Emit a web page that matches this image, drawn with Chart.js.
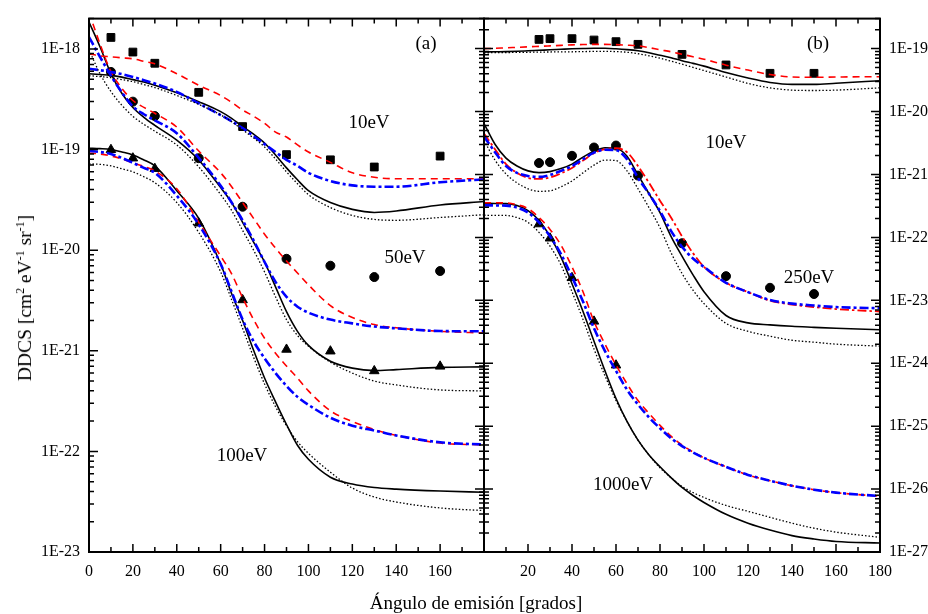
<!DOCTYPE html>
<html>
<head>
<meta charset="utf-8">
<script src="https://cdn.jsdelivr.net/npm/chart.js@4.4.0/dist/chart.umd.min.js"></script>
<style>
  html, body { margin: 0; padding: 0; background: #fff; }
  #wrap { position: relative; width: 928px; height: 614px; overflow: hidden;
          font-family: "Liberation Serif", "DejaVu Serif", serif; color: #000; }
  canvas { position: absolute; left: 0; top: 0; }
  .lbl { position: absolute; font-size: 19px; transform: translate(-50%, -50%); white-space: nowrap; }
  #ytitle { position: absolute; left: 25px; top: 298px; font-size: 19.5px; white-space: nowrap;
            transform: translate(-50%, -50%) rotate(-90deg); }
  #xtitle { position: absolute; left: 476px; top: 603px; font-size: 19px; white-space: nowrap;
            transform: translate(-50%, -50%); }
  sup { font-size: 12px; vertical-align: 7px; line-height: 0; }
</style>
</head>
<body>
<div id="wrap">
  <canvas id="cA" width="928" height="614"></canvas>
  <canvas id="cB" width="928" height="614"></canvas>
  <div class="lbl" style="left:426px; top:43px">(a)</div>
  <div class="lbl" style="left:369px; top:122px">10eV</div>
  <div class="lbl" style="left:405px; top:257px">50eV</div>
  <div class="lbl" style="left:242px; top:455px">100eV</div>
  <div class="lbl" style="left:818px; top:43px">(b)</div>
  <div class="lbl" style="left:726px; top:142px">10eV</div>
  <div class="lbl" style="left:809px; top:277px">250eV</div>
  <div class="lbl" style="left:623px; top:484px">1000eV</div>
  <div id="ytitle">DDCS [cm<sup>2</sup> eV<sup>-1</sup> sr<sup>-1</sup>]</div>
  <div id="xtitle">Ángulo de emisión [grados]</div>
</div>
<script>
// emission angles (degrees) used by the model curves
const angA = [0, 5, 10, 15, 20, 25, 30, 40, 50, 60, 65, 70, 75, 80, 85, 90, 95, 100, 110, 120, 130, 140, 160, 180]
const angB = [0, 5, 10, 15, 20, 25, 30, 35, 40, 45, 50, 55, 60, 65, 70, 75, 80, 85, 90, 95, 100, 110, 120, 130, 140, 150, 160, 180]

// panel (a) - 10 eV
const a10Red = [8.93e-19, 8.53e-19, 8.34e-19, 8.15e-19, 7.97e-19, 7.53e-19, 7.11e-19, 5.67e-19, 4.35e-19, 3.44e-19, 2.94e-19, 2.47e-19, 2.14e-19, 1.82e-19, 1.49e-19, 1.33e-19, 1.11e-19, 9.45e-20, 7.45e-20, 5.87e-20, 5.3e-20, 5.12e-20, 5.12e-20, 5.12e-20]
const a10Blue = [6.35e-19, 6.14e-19, 5.89e-19, 5.61e-19, 5.26e-19, 4.89e-19, 4.52e-19, 3.74e-19, 2.87e-19, 2.2e-19, 1.91e-19, 1.63e-19, 1.36e-19, 1.13e-19, 9.45e-20, 7.88e-20, 6.88e-20, 5.87e-20, 4.86e-20, 4.4e-20, 4.27e-20, 4.27e-20, 4.73e-20, 5.04e-20]
const a10Black = [5.67e-19, 5.57e-19, 5.46e-19, 5.24e-19, 4.95e-19, 4.68e-19, 4.35e-19, 3.66e-19, 2.99e-19, 2.38e-19, 2.04e-19, 1.69e-19, 1.42e-19, 1.16e-19, 8.83e-20, 6.57e-20, 5.0e-20, 3.9e-20, 2.97e-20, 2.54e-20, 2.37e-20, 2.45e-20, 2.81e-20, 3.04e-20]
const a10Dot = [5.42e-19, 5.3e-19, 5.18e-19, 4.95e-19, 4.73e-19, 4.42e-19, 4.13e-19, 3.44e-19, 2.81e-19, 2.21e-19, 1.89e-19, 1.57e-19, 1.3e-19, 1.06e-19, 8.06e-20, 6.0e-20, 4.57e-20, 3.56e-20, 2.65e-20, 2.21e-20, 2.02e-20, 1.98e-20, 2.11e-20, 2.25e-20]
// panel (a) - 50 eV
const a50Red = [2.31e-18, 1.12e-18, 5.93e-19, 4.04e-19, 3.07e-19, 2.62e-19, 2.29e-19, 1.67e-19, 9.66e-20, 5.87e-20, 4.27e-20, 2.97e-20, 2.07e-20, 1.44e-20, 1.05e-20, 7.79e-21, 5.93e-21, 4.52e-21, 2.81e-21, 2.14e-21, 1.82e-21, 1.69e-21, 1.56e-21, 1.5e-21]
const a50Blue = [1.31e-18, 8.34e-19, 5.42e-19, 3.69e-19, 2.68e-19, 2.24e-19, 1.95e-19, 1.45e-19, 8.25e-20, 4.37e-20, 2.97e-20, 1.98e-20, 1.25e-20, 7.62e-21, 4.84e-21, 3.44e-21, 2.74e-21, 2.39e-21, 2.04e-21, 1.87e-21, 1.74e-21, 1.67e-21, 1.57e-21, 1.56e-21]
const a50Black = [1.85e-18, 1.05e-18, 5.67e-19, 3.6e-19, 2.62e-19, 2.09e-19, 1.74e-19, 1.24e-19, 7.88e-20, 4.18e-20, 2.97e-20, 1.89e-20, 1.2e-20, 7.62e-21, 4.32e-21, 2.45e-21, 1.56e-21, 1.13e-21, 7.88e-22, 6.72e-22, 6.35e-22, 6.5e-22, 6.83e-22, 6.92e-22]
const a50Dot = [9.78e-19, 5.67e-19, 3.77e-19, 2.75e-19, 2.14e-19, 1.78e-19, 1.52e-19, 1.11e-19, 6.72e-20, 3.56e-20, 2.48e-20, 1.57e-20, 1.0e-20, 6.07e-21, 3.44e-21, 2.04e-21, 1.42e-21, 1.11e-21, 7.7e-22, 6.0e-22, 5.0e-22, 4.57e-22, 4.08e-22, 3.99e-22]
// panel (a) - 100 eV
const a100Red = [9.24e-20, 9.03e-20, 8.63e-20, 8.06e-20, 7.36e-20, 6.8e-20, 6.14e-20, 4.08e-20, 1.89e-20, 8.73e-21, 5.8e-21, 3.37e-21, 2.04e-21, 1.33e-21, 9.45e-22, 7.04e-22, 5.36e-22, 3.99e-22, 2.53e-22, 1.98e-22, 1.65e-22, 1.44e-22, 1.21e-22, 1.16e-22]
const a100Blue = [9.66e-20, 9.45e-20, 9.03e-20, 8.25e-20, 7.36e-20, 6.57e-20, 5.87e-20, 3.48e-20, 1.8e-20, 7.28e-21, 3.86e-21, 2.04e-21, 1.24e-21, 8.43e-22, 6.0e-22, 4.47e-22, 3.48e-22, 2.9e-22, 2.16e-22, 1.8e-22, 1.61e-22, 1.44e-22, 1.23e-22, 1.17e-22]
const a100Black = [1.03e-19, 1.02e-19, 1.0e-19, 9.45e-20, 8.83e-20, 7.88e-20, 6.88e-20, 3.9e-20, 2.07e-20, 7.28e-21, 3.69e-21, 2.0e-21, 1.01e-21, 5.36e-22, 3.11e-22, 1.85e-22, 1.15e-22, 8.34e-23, 5.54e-23, 4.73e-23, 4.37e-23, 4.22e-23, 4.04e-23, 3.92e-23]
const a100Dot = [7.2e-20, 7.12e-20, 6.88e-20, 6.43e-20, 6.0e-20, 5.36e-20, 4.68e-20, 2.97e-20, 1.5e-20, 6.07e-21, 3.22e-21, 1.67e-21, 8.63e-22, 4.68e-22, 2.78e-22, 1.8e-22, 1.25e-22, 9.56e-23, 6.21e-23, 4.32e-23, 3.52e-23, 3.14e-23, 2.74e-23, 2.58e-23]

// panel (a) - experiment
const expAngA = [10, 20, 30, 50, 70, 90, 110, 130, 160]
const a10Exp = [1.30e-18, 9.3e-19, 7.2e-19, 3.7e-19, 1.69e-19, 8.9e-20, 7.9e-20, 6.7e-20, 8.6e-20]
const a50Exp = [5.9e-19, 2.99e-19, 2.15e-19, 8.2e-20, 2.7e-20, 8.2e-21, 7.0e-21, 5.4e-21, 6.2e-21]
const a100Exp = [9.95e-20, 8.2e-20, 6.45e-20, 1.85e-20, 3.2e-21, 1.03e-21, 9.9e-22, 6.3e-22, 7.0e-22]

// panel (b) - 10 eV
const b10Red = [1.0e-19, 1.01e-19, 1.03e-19, 1.048e-19, 1.067e-19, 1.087e-19, 1.107e-19, 1.127e-19, 1.147e-19, 1.16e-19, 1.168e-19, 1.168e-19, 1.156e-19, 1.135e-19, 1.107e-19, 1.037e-19, 9.57e-20, 8.91e-20, 8.13e-20, 7.43e-20, 6.79e-20, 5.46e-20, 4.56e-20, 3.87e-20, 3.54e-20, 3.5e-20, 3.54e-20, 3.58e-20]
const b10Black = [8.84e-20, 8.91e-20, 8.97e-20, 9.07e-20, 9.23e-20, 9.4e-20, 9.57e-20, 9.75e-20, 9.93e-20, 1.004e-19, 1.011e-19, 1.011e-19, 9.93e-20, 9.64e-20, 9.23e-20, 8.59e-20, 7.85e-20, 7.17e-20, 6.43e-20, 5.83e-20, 5.27e-20, 4.16e-20, 3.41e-20, 2.9e-20, 2.7e-20, 2.7e-20, 2.82e-20, 3.09e-20]
const b10Dot = [8.59e-20, 8.62e-20, 8.65e-20, 8.72e-20, 8.75e-20, 8.81e-20, 8.84e-20, 8.87e-20, 8.91e-20, 8.97e-20, 9.03e-20, 9.07e-20, 8.97e-20, 8.75e-20, 8.29e-20, 7.7e-20, 7.04e-20, 6.32e-20, 5.66e-20, 5.04e-20, 4.48e-20, 3.54e-20, 2.8e-20, 2.38e-20, 2.19e-20, 2.16e-20, 2.19e-20, 2.38e-20]
// panel (b) - 250 eV
const b250Red = [4.49e-21, 2.52e-21, 1.46e-21, 1.06e-21, 8.81e-22, 8.5e-22, 8.97e-22, 1.04e-21, 1.27e-21, 1.66e-21, 2.18e-21, 2.52e-21, 2.61e-21, 2.26e-21, 1.36e-21, 7.35e-22, 3.83e-22, 2.07e-22, 1.04e-22, 5.62e-23, 3.39e-23, 1.9e-23, 1.35e-23, 9.89e-24, 8.56e-24, 7.81e-24, 7.27e-24, 6.64e-24]
const b250Blue = [4.03e-21, 2.26e-21, 1.36e-21, 1.06e-21, 9.47e-22, 9.14e-22, 9.82e-22, 1.14e-21, 1.36e-21, 1.75e-21, 2.22e-21, 2.47e-21, 2.43e-21, 1.75e-21, 8.81e-22, 4.94e-22, 2.62e-22, 1.27e-22, 7.11e-23, 4.61e-23, 3.39e-23, 1.9e-23, 1.35e-23, 1.01e-23, 8.87e-24, 8.25e-24, 7.81e-24, 7.48e-24]
const b250Black = [6.45e-21, 3.02e-21, 1.82e-21, 1.36e-21, 1.14e-21, 1.07e-21, 1.11e-21, 1.24e-21, 1.46e-21, 1.89e-21, 2.34e-21, 2.66e-21, 2.61e-21, 1.95e-21, 9.82e-22, 4.94e-22, 2.48e-22, 1.04e-22, 5.04e-23, 2.54e-23, 1.37e-23, 5.74e-24, 4.38e-24, 4.07e-24, 3.86e-24, 3.72e-24, 3.59e-24, 3.4e-24]
const b250Dot = [3.49e-21, 1.69e-21, 1.02e-21, 7.35e-22, 5.92e-22, 5.4e-22, 5.5e-22, 6.36e-22, 7.9e-22, 1.06e-21, 1.41e-21, 1.69e-21, 1.66e-21, 1.14e-21, 5.92e-22, 2.97e-22, 1.42e-22, 5.73e-23, 2.68e-23, 1.45e-23, 8.87e-24, 4.3e-24, 3.22e-24, 2.69e-24, 2.32e-24, 2.16e-24, 2.01e-24, 1.87e-24]
// panel (b) - 1000 eV
const b1000Red = [3.56e-22, 3.55e-22, 3.53e-22, 3.31e-22, 2.87e-22, 2.07e-22, 1.34e-22, 7.51e-23, 3.39e-23, 1.37e-23, 4.62e-24, 2.01e-24, 9.4e-25, 4.73e-25, 2.55e-25, 1.6e-25, 1.03e-25, 6.94e-26, 5.01e-26, 3.89e-26, 3.13e-26, 2.26e-26, 1.68e-26, 1.36e-26, 1.13e-26, 9.78e-27, 8.78e-27, 7.68e-27]
const b1000Blue = [3.23e-22, 3.22e-22, 3.2e-22, 2.97e-22, 2.48e-22, 1.73e-22, 1.04e-22, 5.42e-23, 2.36e-23, 9.54e-24, 3.59e-24, 1.56e-24, 7.57e-25, 3.8e-25, 2.21e-25, 1.38e-25, 9.27e-26, 6.45e-26, 4.83e-26, 3.82e-26, 3.13e-26, 2.26e-26, 1.68e-26, 1.36e-26, 1.13e-26, 9.78e-27, 8.78e-27, 7.73e-27]
const b1000Black = [3.48e-22, 3.46e-22, 3.44e-22, 3.2e-22, 2.67e-22, 1.86e-22, 1.04e-22, 4.86e-23, 1.83e-23, 6.64e-24, 2.24e-24, 7.57e-25, 2.75e-25, 1.19e-25, 6.0e-26, 3.49e-26, 2.26e-26, 1.52e-26, 1.06e-26, 7.9e-27, 6.13e-27, 3.97e-27, 2.87e-27, 2.23e-27, 1.82e-27, 1.61e-27, 1.47e-27, 1.39e-27]
const b1000Dot = [2.25e-22, 2.24e-22, 2.23e-22, 2.07e-22, 1.73e-22, 1.2e-22, 7.25e-23, 3.64e-23, 1.37e-23, 4.97e-24, 1.68e-24, 6.31e-25, 2.55e-25, 1.19e-25, 6.0e-26, 3.49e-26, 2.18e-26, 1.52e-26, 1.1e-26, 8.81e-27, 7.35e-27, 5.5e-27, 4.43e-27, 3.56e-27, 2.87e-27, 2.39e-27, 2.07e-27, 1.71e-27]

// panel (b) - experiment
const b10ExpAng = [25, 30, 40, 50, 60, 70, 90, 110, 130, 150]
const b10Exp = [1.4e-19, 1.44e-19, 1.44e-19, 1.37e-19, 1.29e-19, 1.17e-19, 8.1e-20, 5.5e-20, 4.05e-20, 4.05e-20]
const b250ExpAng = [25, 30, 40, 50, 60, 70, 90, 110, 130, 150]
const b250Exp = [1.52e-21, 1.57e-21, 1.98e-21, 2.68e-21, 2.88e-21, 9.6e-22, 8.07e-23, 2.42e-23, 1.58e-23, 1.26e-23]
const b1000ExpAng = [25, 30, 40, 50, 60]
const b1000Exp = [1.63e-22, 9.7e-23, 2.28e-23, 4.63e-24, 9.3e-25]

// line looks
const solid = { borderColor: "#000", borderWidth: 1.6, borderDash: [] }
const dotted = { borderColor: "#000", borderWidth: 1.3, borderDash: [1.5, 2] }
const redDash = { borderColor: "#ff0000", borderWidth: 1.6, borderDash: [7, 5] }
const redDashDot = { borderColor: "#ff0000", borderWidth: 1.8, borderDash: [9, 3, 2.5, 3] }
const blueDashDot = { borderColor: "#0000ff", borderWidth: 2.6, borderDash: [9, 3, 3, 3] }

const curve = (ang, vals, look) => ({
  data: ang.map((x, i) => ({ x, y: vals[i] })),
  ...look,
  pointRadius: 0,
  fill: false,
  cubicInterpolationMode: "monotone",
})

const marks = (ang, vals, style, r) => ({
  data: ang.map((x, i) => ({ x, y: vals[i] })),
  showLine: false,
  pointStyle: style,
  pointRadius: r,
  backgroundColor: "#000",
  borderColor: "#000",
  borderWidth: 1,
})

// inward ticks and frame, placed with the chart's own scales
const frameTicks = {
  id: "frameTicks",
  afterDatasetsDraw(chart, args, opts) {
    const { ctx, chartArea: a, scales: { x, y } } = chart
    ctx.save()
    ctx.strokeStyle = "#000"
    ctx.lineWidth = 1.5
    ctx.beginPath()
    for (let d = 0; d <= 180; d += 10) {
      const px = x.getPixelForValue(d)
      const len = d % 20 === 0 ? 8 : 5
      ctx.moveTo(px, a.bottom)
      ctx.lineTo(px, a.bottom - len)
      ctx.moveTo(px, a.top)
      ctx.lineTo(px, a.top + len)
    }
    for (let e = opts.eMin; e <= opts.eMax; e++) {
      for (let m = 1; m <= 9; m++) {
        const v = m * Math.pow(10, e)
        if (v < y.min * 0.999 || v > y.max * 1.001) continue
        const py = y.getPixelForValue(v)
        const len = m === 1 ? 9 : 5
        opts.sides.forEach((s) => {
          const x0 = s === "left" || s === "leftOut" ? a.left : a.right
          const dir = s === "left" || s === "rightOut" ? 1 : -1
          ctx.moveTo(x0, py)
          ctx.lineTo(x0 + dir * len, py)
        })
      }
    }
    ctx.stroke()
    ctx.lineWidth = 2
    ctx.strokeRect(a.left, a.top, a.width, a.height)
    ctx.restore()
  },
}

const decadeLabel = (v) => {
  const l = Math.log10(v)
  return Math.abs(l - Math.round(l)) < 1e-6 ? "1E" + Math.round(l) : ""
}

const tickFont = { family: "Liberation Serif", size: 16 }

const makeChart = (id, datasets, cfg) =>
  new Chart(document.getElementById(id), {
    type: "line",
    data: { datasets },
    plugins: [frameTicks],
    options: {
      responsive: false,
      animation: false,
      events: [],
      layout: { padding: cfg.padding },
      plugins: {
        legend: { display: false },
        tooltip: { enabled: false },
        frameTicks: { eMin: cfg.eMin, eMax: cfg.eMax, sides: cfg.sides },
      },
      scales: {
        x: {
          type: "linear",
          min: 0,
          max: 180,
          grid: { display: false, drawTicks: false },
          border: { display: false },
          afterFit: (s) => { s.height = 62 },
          ticks: {
            stepSize: 20,
            autoSkip: false,
            maxRotation: 0,
            padding: 10,
            color: "#000",
            font: tickFont,
            callback: (v) => (cfg.hideX.includes(v) ? "" : String(v)),
          },
        },
        y: {
          type: "logarithmic",
          position: cfg.yPos,
          min: cfg.yMin,
          max: cfg.yMax,
          grid: { display: false, drawTicks: false },
          border: { display: false },
          afterFit: (s) => { s.width = cfg.yWidth },
          ticks: {
            autoSkip: false,
            padding: 9,
            color: "#000",
            font: tickFont,
            callback: decadeLabel,
          },
        },
      },
    },
  })

makeChart("cA", [
  curve(angA, a10Dot, dotted), curve(angA, a50Dot, dotted), curve(angA, a100Dot, dotted),
  curve(angA, a10Blue, blueDashDot), curve(angA, a50Blue, blueDashDot), curve(angA, a100Blue, blueDashDot),
  curve(angA, a10Red, redDash), curve(angA, a50Red, redDash), curve(angA, a100Red, redDash),
  curve(angA, a10Black, solid), curve(angA, a50Black, solid), curve(angA, a100Black, solid),
  marks(expAngA, a10Exp, "rect", 5.5), marks(expAngA, a50Exp, "circle", 4.5), marks(expAngA, a100Exp, "triangle", 5.5),
], {
  padding: { left: 0, right: 444, top: 14, bottom: 0 },
  yPos: "left", yWidth: 89, yMin: 1e-23, yMax: 2e-18,
  eMin: -23, eMax: -18, sides: ["left"], hideX: [180],
})

makeChart("cB", [
  curve(angB, b10Dot, dotted), curve(angB, b250Dot, dotted), curve(angB, b1000Dot, dotted),
  curve(angB, b250Blue, blueDashDot), curve(angB, b1000Blue, blueDashDot),
  curve(angB, b10Red, redDash), curve(angB, b250Red, redDashDot), curve(angB, b1000Red, redDash),
  curve(angB, b10Black, solid), curve(angB, b250Black, solid), curve(angB, b1000Black, solid),
  marks(b10ExpAng, b10Exp, "rect", 5.5), marks(b250ExpAng, b250Exp, "circle", 4.5), marks(b1000ExpAng, b1000Exp, "triangle", 5.5),
], {
  padding: { left: 484, right: 0, top: 14, bottom: 0 },
  yPos: "right", yWidth: 48, yMin: 1e-27, yMax: 3e-19,
  eMin: -27, eMax: -19, sides: ["right", "left", "leftOut"], hideX: [0],
})
</script>
</body>
</html>
